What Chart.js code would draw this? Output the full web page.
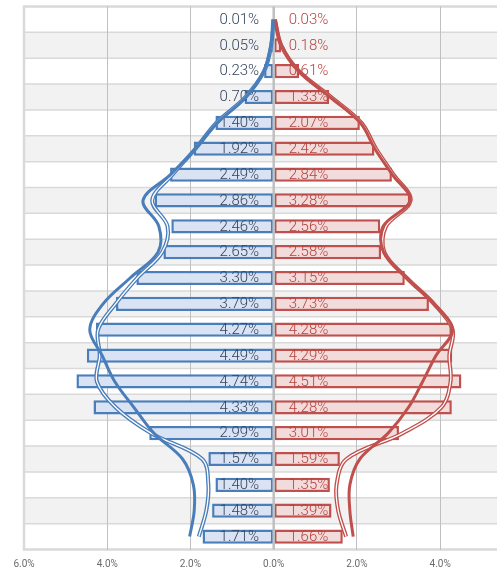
<!DOCTYPE html>
<html>
<head>
<meta charset="utf-8">
<script src="https://cdn.jsdelivr.net/npm/chart.js@4"></script>
<style>
  html, body { margin: 0; padding: 0; background: #fff; overflow: hidden; }
</style>
</head>
<body>
<canvas id="pyramid" width="543" height="573"></canvas>
<script>
// Age groups, oldest at the top
const ageGroups = ['100+', '95-99', '90-94', '85-89', '80-84', '75-79', '70-74', '65-69', '60-64', '55-59',
    '50-54', '45-49', '40-44', '35-39', '30-34', '25-29', '20-24', '15-19', '10-14', '5-9', '0-4'];

// Bars: share of population (%)
const maleShare = [0.01, 0.05, 0.23, 0.70, 1.40, 1.92, 2.49, 2.86, 2.46, 2.65, 3.30,
    3.79, 4.27, 4.49, 4.74, 4.33, 2.99, 1.57, 1.40, 1.48, 1.71];
const femaleShare = [0.03, 0.18, 0.61, 1.33, 2.07, 2.42, 2.84, 3.28, 2.56, 2.58, 3.15,
    3.73, 4.28, 4.29, 4.51, 4.28, 3.01, 1.59, 1.35, 1.39, 1.66];

// Comparison curves (solid thick line)
const maleCurveA = [0.01, 0.07, 0.24, 0.66, 1.35, 1.88, 2.48, 3.14, 2.76, 2.78, 3.45,
    4.10, 4.42, 4.12, 3.82, 3.36, 2.88, 2.19, 1.93, 1.91, 2.02];
const femaleCurveA = [0.03, 0.19, 0.60, 1.35, 2.08, 2.43, 2.85, 3.28, 2.63, 2.64, 3.20,
    3.85, 4.30, 3.90, 3.58, 3.24, 2.75, 2.07, 1.83, 1.83, 1.91];

// Comparison curves (double line)
const maleCurveB = [0.01, 0.06, 0.23, 0.68, 1.38, 1.88, 2.43, 2.92, 2.55, 2.68, 3.28,
    3.80, 4.22, 4.18, 4.25, 3.80, 2.95, 1.72, 1.57, 1.62, 1.80];
const femaleCurveB = [0.03, 0.18, 0.61, 1.38, 2.11, 2.46, 2.88, 3.29, 2.70, 2.66, 3.20,
    3.85, 4.30, 4.22, 4.25, 4.03, 3.10, 1.75, 1.51, 1.55, 1.74];

const axisTicks = [-6, -4, -2, 0, 2, 4, 6];

const blue = '#4a7ebb';
const red = '#c0504d';

// Background bands, frame, zero line and value labels
const pyramidDecor = {
    id: 'pyramidDecor',
    beforeDraw(chart) {
        const { ctx, chartArea: a, scales: { y } } = chart;
        const h = (a.bottom - a.top) / ageGroups.length;
        ctx.save();
        ctx.fillStyle = '#fff';
        ctx.fillRect(0, 0, chart.width, chart.height);
        ageGroups.forEach((g, i) => {
            if (i % 2 === 1) {
                ctx.fillStyle = '#f2f2f2';
                ctx.fillRect(a.left, y.getPixelForValue(i) - h / 2, a.right - a.left, h);
            }
        });
        ctx.strokeStyle = '#d9d9d9';
        ctx.lineWidth = 1.5;
        for (let i = 1; i < ageGroups.length; i++) {
            const yy = y.getPixelForValue(i) - h / 2;
            ctx.beginPath();
            ctx.moveTo(a.left, yy);
            ctx.lineTo(a.right, yy);
            ctx.stroke();
        }
        ctx.lineWidth = 2.5;
        ctx.strokeRect(a.left, a.top, a.right - a.left, a.bottom - a.top);
        ctx.restore();
    },
    afterDatasetDraw(chart, args) {
        if (args.index !== 1) return; // after the female bars, before the curves
        const { ctx, chartArea: a, scales: { x, y } } = chart;
        const x0 = x.getPixelForValue(0);
        ctx.save();
        ctx.strokeStyle = '#bfbfbf';
        ctx.lineWidth = 2.5;
        ctx.beginPath();
        ctx.moveTo(x0, a.top);
        ctx.lineTo(x0, a.bottom);
        ctx.stroke();

        ctx.font = '300 15px Roboto';
        ctx.textBaseline = 'middle';
        ageGroups.forEach((g, i) => {
            const yy = y.getPixelForValue(i) + 0.5;
            ctx.fillStyle = '#34445c';
            ctx.textAlign = 'right';
            ctx.fillText(maleShare[i].toFixed(2) + '%', x0 - 14.5, yy);
            ctx.fillStyle = '#b5423f';
            ctx.textAlign = 'left';
            ctx.fillText(femaleShare[i].toFixed(2) + '%', x0 + 15, yy);
        });
        ctx.restore();
    }
};

const barStyle = {
    grouped: false,
    barPercentage: 0.55,
    categoryPercentage: 1,
    borderWidth: 2.5,
    borderSkipped: false
};

const curve = (values, sign, color, width, order) => ({
    type: 'line',
    data: values.map(v => v * sign),
    borderColor: color,
    borderWidth: width,
    pointRadius: 0,
    tension: 0.35,
    fill: false,
    order: order
});

const ctx = document.getElementById('pyramid').getContext('2d');
new Chart(ctx, {
    type: 'bar',
    data: {
        labels: ageGroups,
        datasets: [
            { ...barStyle, data: maleShare.map(v => -v), backgroundColor: '#dae3f3', borderColor: blue, order: 20 },
            { ...barStyle, data: femaleShare, backgroundColor: '#f2dcdb', borderColor: red, order: 19 },
            curve(maleCurveB, -1, blue, 4, 10),
            curve(maleCurveB, -1, '#ffffff', 1.3, 9),
            curve(femaleCurveB, 1, red, 4, 10),
            curve(femaleCurveB, 1, '#ffffff', 1.3, 9),
            curve(maleCurveA, -1, blue, 3, 5),
            curve(femaleCurveA, 1, red, 3, 5)
        ]
    },
    options: {
        indexAxis: 'y',
        responsive: false,
        animation: false,
        layout: { padding: { left: 24, right: 12, top: 6.5, bottom: 0 } },
        plugins: {
            legend: { display: false },
            tooltip: { enabled: false }
        },
        scales: {
            y: {
                type: 'category',
                display: false,
                offset: true
            },
            x: {
                type: 'linear',
                position: 'bottom',
                min: -6,
                max: 6,
                afterBuildTicks: s => { s.ticks = axisTicks.map(v => ({ value: v })); },
                afterFit: s => { s.height = 23.5; },
                border: { display: false },
                grid: {
                    drawTicks: false,
                    lineWidth: 1,
                    color: c => (c.tick && Math.abs(c.tick.value) < 6 && c.tick.value !== 0) ? '#c0c0c0' : 'rgba(0,0,0,0)'
                },
                ticks: {
                    padding: 9,
                    color: '#6b6b6b',
                    font: { family: 'Roboto', size: 10 },
                    callback: v => Math.abs(v).toFixed(1) + '%'
                }
            }
        }
    },
    plugins: [pyramidDecor]
});
</script>
</body>
</html>
